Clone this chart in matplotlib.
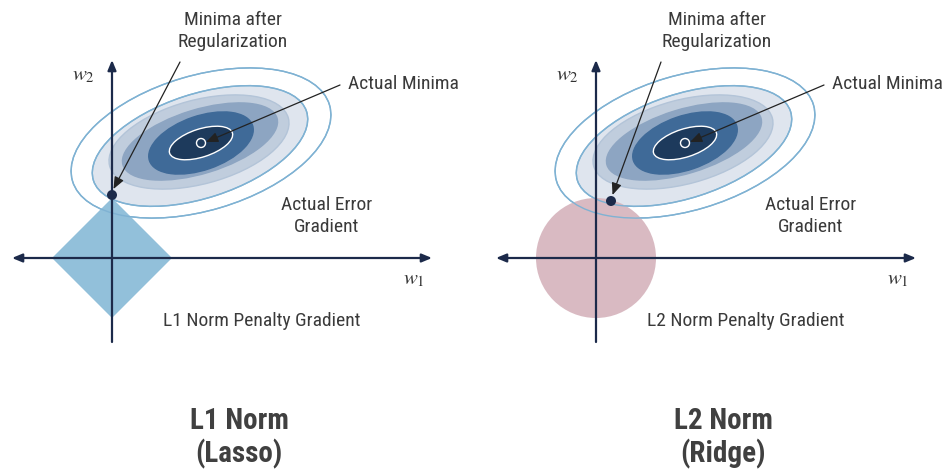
import matplotlib
matplotlib.use("Agg")
import matplotlib.pyplot as plt
from matplotlib.patches import Ellipse, Polygon, Circle
from matplotlib import font_manager as fm

# ---------------- data ----------------
panel_titles = ["L1 Norm\n(Lasso)", "L2 Norm\n(Ridge)"]
penalty_labels = ["L1 Norm Penalty Gradient", "L2 Norm Penalty Gradient"]
penalty_shapes = ["diamond", "circle"]
origin_x = [112, 596]
origin_y = 258
penalty_radius = [60, 60]
reg_minima = [(112, 195), (611, 201)]
actual_minima = [(201, 143), (685, 143)]
# contour levels (outer -> inner): width, height (pixels), tilt (deg), centre shift
level_width = [268, 224, 185, 161, 109, 66]
level_height = [135, 104, 84, 64, 54, 28]
level_angle = [16.5, 18, 15, 17, 19, 18]
level_dx = [0, -1, -2, -1, 0, 0]
level_dy = [0, 3, -1, -1.5, 0, 0]
level_fill = ["none", "#dfe5ee", "#c0cddd", "#8da5c2", "#3f6a98", "#1d3a5c"]
level_edge = ["#7fb2d3", "#7fb2d3", "#b3c4d8", "#8da5c2", "#3f6a98", "#ffffff"]

names = {f.name for f in fm.fontManager.ttflist}
cond = next((n for n in ["Liberation Sans Narrow", "Roboto Condensed", "Roboto", "Open Sans"]
             if n in names), "DejaVu Sans")
plt.rcParams["mathtext.fontset"] = "stix"

fig = plt.figure(figsize=(9.45, 4.74), dpi=100)
ax = fig.add_axes([0, 0, 1, 1])
ax.set_xlim(0, 945)
ax.set_ylim(474, 0)
ax.axis("off")

navy = "#1c2a4a"
txt = "#3a3a3a"
off = [0, 484]

for i in range(2):
    ox = origin_x[i]
    cx, cy = actual_minima[i]
    levels = list(zip(level_width, level_height, level_angle, level_dx, level_dy,
                      level_fill, level_edge))
    # ellipse fills
    for w, h, ang, dx, dy, fc, ec in levels:
        ax.add_patch(Ellipse((cx + dx, cy + dy), w, h, angle=-ang,
                             facecolor=fc, edgecolor=ec, lw=1.0, zorder=2))
    # penalty shape
    r = penalty_radius[i]
    if penalty_shapes[i] == "diamond":
        ax.add_patch(Polygon([(ox, origin_y - r), (ox + r, origin_y), (ox, origin_y + r),
                              (ox - r, origin_y)], closed=True, facecolor="#92c0da",
                             edgecolor="none", zorder=3))
    else:
        ax.add_patch(Circle((ox, origin_y), r, facecolor="#d9bac2", edgecolor="none", zorder=3))
    # outer ellipse outlines on top
    for w, h, ang, dx, dy, fc, ec in levels[:2]:
        ax.add_patch(Ellipse((cx + dx, cy + dy), w, h, angle=-ang, facecolor="none",
                             edgecolor="#7fb2d3", lw=1.0, zorder=4))
    # center marker
    ax.add_patch(Circle((cx, cy), 4.5, facecolor="#1d3a5c", edgecolor="white", lw=1.0, zorder=5))

    # axes
    ax.annotate("", xy=(ox + 320, origin_y), xytext=(ox - 100, origin_y),
                arrowprops=dict(arrowstyle="<|-|>,head_length=0.6,head_width=0.25",
                                color=navy, lw=1.6, mutation_scale=10,
                                shrinkA=0, shrinkB=0), zorder=6)
    ax.annotate("", xy=(ox, 60), xytext=(ox, 342),
                arrowprops=dict(arrowstyle="-|>,head_length=0.6,head_width=0.25",
                                color=navy, lw=1.6, mutation_scale=10,
                                shrinkA=0, shrinkB=0), zorder=6)
    ax.text(ox - 29, 75, "$w_2$", fontsize=15, color="#333333", ha="center", va="center")
    ax.text(ox + 302, 279, "$w_1$", fontsize=15, color="#333333", ha="center", va="center")

    # regularized minimum
    rx, ry = reg_minima[i]
    ax.add_patch(Circle((rx, ry), 5, facecolor=navy, edgecolor="none", zorder=7))

    # annotations
    o = off[i]
    ax.annotate("", xy=(rx + 1.5, ry - 6), xytext=(180 + o - (3 if i else 0), 62),
                arrowprops=dict(arrowstyle="-|>,head_length=0.6,head_width=0.25",
                                color="#222222", lw=0.9, mutation_scale=12,
                                shrinkA=0, shrinkB=0), zorder=8)
    ax.annotate("", xy=(cx + 5, cy - 1), xytext=(340 + o, 85),
                arrowprops=dict(arrowstyle="-|>,head_length=0.6,head_width=0.25",
                                color="#222222", lw=0.9, mutation_scale=12,
                                shrinkA=0, shrinkB=0), zorder=8)
    ax.text(233 + o, 31, "Minima after\nRegularization", fontsize=14, family=cond,
            color=txt, ha="center", va="center", linespacing=1.25)
    ax.text(403 + o, 84, "Actual Minima", fontsize=14, family=cond,
            color=txt, ha="center", va="center")
    ax.text(327 + o, 216, "Actual Error\nGradient", fontsize=14, family=cond,
            color=txt, ha="center", va="center", linespacing=1.25)
    ax.text(262 + o, 321, penalty_labels[i], fontsize=14, family=cond,
            color=txt, ha="center", va="center")
    ax.text(239 + o, 438, panel_titles[i], fontsize=21, family=cond, fontweight="bold",
            color="#404040", ha="center", va="center", linespacing=1.15)

fig.savefig("out.png", dpi=100)
